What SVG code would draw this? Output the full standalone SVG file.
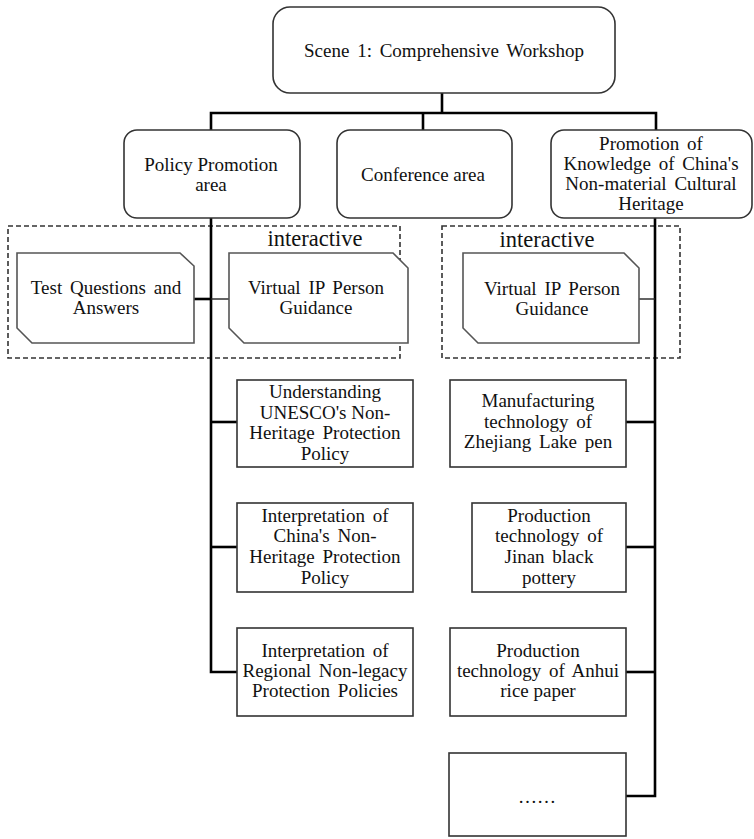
<svg xmlns="http://www.w3.org/2000/svg" width="754" height="839" viewBox="0 0 754 839">
<style>
text{font-family:"Liberation Serif","Times New Roman",serif;font-size:19px;fill:#111;text-anchor:middle}
.big{font-size:22.5px}
.ws{word-spacing:3px}
.rbox{fill:#fff;stroke:#333;stroke-width:1.6}
.box{fill:#fff;stroke:#333;stroke-width:1.6}
.cham{fill:#fff;stroke:#555;stroke-width:1.6}
.dash{fill:none;stroke:#333;stroke-width:1.6;stroke-dasharray:5,3}
.c{fill:none;stroke:#000;stroke-width:2.6}
.ct{fill:none;stroke:#222;stroke-width:1.4}
</style>
<rect width="754" height="839" fill="#fff"/>
<g id="dashed-groups">
<rect class="dash" x="8" y="226" width="392" height="132"/>
<rect class="dash" x="442" y="226" width="238" height="132"/>
<text class="big" x="315" y="246">interactive</text>
<text class="big" x="547" y="247">interactive</text>
</g>
<g id="connectors">
<polyline class="c" points="442,92 442,113"/>
<polyline class="c" points="211,130 211,113 656,113 656,130"/>
<polyline class="c" points="423,113 423,130"/>
<polyline class="c" points="211,218 211,672 237,672"/>
<polyline class="c" points="655,218 655,796 626,796"/>
<polyline class="c" points="194,299 211,299"/>
<polyline class="ct" points="211,299 229,299"/>
<polyline class="ct" points="639,299 655,299"/>
<polyline class="c" points="211,422 237,422"/>
<polyline class="c" points="211,547 237,547"/>
<polyline class="c" points="626,422 655,422"/>
<polyline class="c" points="626,547 655,547"/>
<polyline class="c" points="626,672 655,672"/>
</g>
<g id="n-root">
<rect class="rbox" x="273" y="7" width="342" height="86" rx="17"/>
<text class="ws" x="444" y="57">Scene 1: Comprehensive  Workshop</text>
</g>
<g id="n-policy">
<rect class="rbox" x="124" y="130" width="176" height="88" rx="13"/>
<text x="211" y="171">Policy Promotion</text>
<text x="211" y="191">area</text>
</g>
<g id="n-conference">
<rect class="rbox" x="337" y="130" width="175" height="88" rx="13"/>
<text x="423" y="181">Conference area</text>
</g>
<g id="n-promotion">
<rect class="rbox" x="551" y="130" width="201" height="88" rx="13"/>
<text class="ws" x="651" y="150">Promotion  of</text>
<text class="ws" x="651" y="170">Knowledge  of China's</text>
<text class="ws" x="651" y="190">Non-material  Cultural</text>
<text x="651" y="210">Heritage</text>
</g>
<g id="n-test">
<polygon class="cham" points="17,253 180,253 194,266 194,343 32,343 17,328"/>
<text class="ws" x="106" y="294">Test Questions  and</text>
<text x="106" y="314">Answers</text>
</g>
<g id="n-virtual-left">
<polygon class="cham" points="229,253 393,253 408,268 408,343 244,343 229,328"/>
<text class="ws" x="316" y="294">Virtual  IP Person</text>
<text x="316" y="314">Guidance</text>
</g>
<g id="n-virtual-right">
<polygon class="cham" points="463,253 624,253 639,268 639,343 478,343 463,328"/>
<text class="ws" x="552" y="295">Virtual  IP Person</text>
<text x="552" y="315">Guidance</text>
</g>
<g id="n-unesco">
<rect class="box" x="237" y="380" width="176" height="87"/>
<text x="325" y="398">Understanding</text>
<text x="325" y="419">UNESCO's Non-</text>
<text class="ws" x="325" y="439">Heritage  Protection</text>
<text x="325" y="460">Policy</text>
</g>
<g id="n-china">
<rect class="box" x="237" y="503" width="176" height="89"/>
<text class="ws" x="325" y="522">Interpretation  of</text>
<text class="ws" x="325" y="542">China's  Non-</text>
<text class="ws" x="325" y="563">Heritage  Protection</text>
<text x="325" y="584">Policy</text>
</g>
<g id="n-regional">
<rect class="box" x="237" y="628" width="176" height="88"/>
<text class="ws" x="325" y="657">Interpretation  of</text>
<text class="ws" x="325" y="677">Regional  Non-legacy</text>
<text class="ws" x="325" y="697">Protection  Policies</text>
</g>
<g id="n-lake-pen">
<rect class="box" x="450" y="380" width="176" height="87"/>
<text x="538" y="407">Manufacturing</text>
<text class="ws" x="538" y="428">technology  of</text>
<text class="ws" x="538" y="448">Zhejiang  Lake pen</text>
</g>
<g id="n-pottery">
<rect class="box" x="472" y="503" width="154" height="89"/>
<text x="549" y="522">Production</text>
<text class="ws" x="549" y="542">technology  of</text>
<text class="ws" x="549" y="563">Jinan  black</text>
<text x="549" y="584">pottery</text>
</g>
<g id="n-rice-paper">
<rect class="box" x="450" y="628" width="176" height="88"/>
<text x="538" y="657">Production</text>
<text class="ws" x="538" y="677">technology  of Anhui</text>
<text x="538" y="697">rice paper</text>
</g>
<g id="n-more">
<rect class="box" x="449" y="753" width="177" height="83"/>
<text x="537" y="803">……</text>
</g>
</svg>
